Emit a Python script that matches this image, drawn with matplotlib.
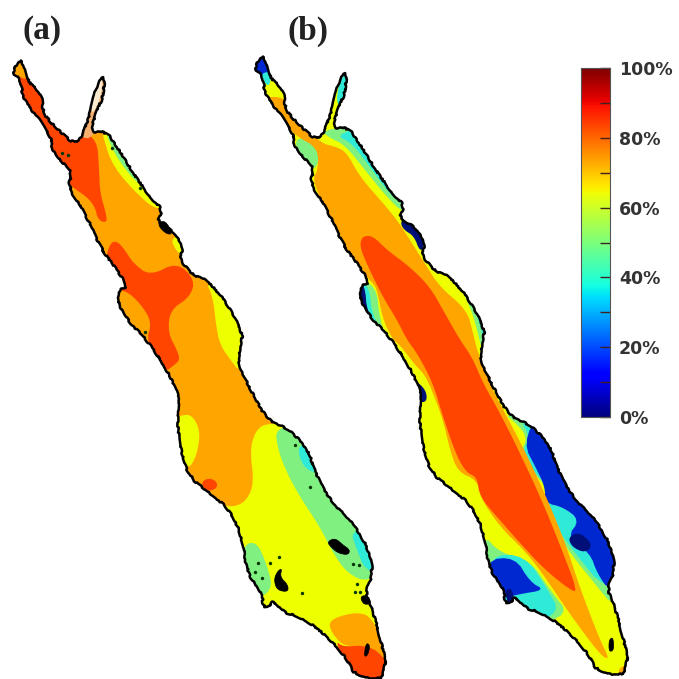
#!/bin/python3
import numpy as np

import matplotlib
matplotlib.use('agg')
import matplotlib.pyplot as plt
from matplotlib.patches import Polygon

# colours of the contour classes
RED = '#FF4500'
ORANGE = '#FFA500'
YELLOW = '#EEFF00'
GREEN = '#80F080'
CYAN = '#30EAD8'
BLUE = '#0028D0'
NAVY = '#001078'

# coast of the sea, image pixels
coast = [(20, 58), (24, 68), (27, 80), (42, 95), (43, 113), (55, 127), (75, 145), (83, 134),
         (90, 113), (97, 83), (105, 75), (103, 97), (96, 113), (90, 132), (107, 132), (117, 147),
         (133, 173), (150, 197), (163, 210), (157, 223), (173, 230), (183, 247), (180, 260),
         (193, 275), (207, 280), (227, 303), (243, 333), (240, 347), (238, 363), (247, 383),
         (267, 420), (287, 428), (307, 447), (317, 477), (330, 500), (353, 523), (369, 550),
         (373, 573), (365, 593), (373, 610), (390, 678), (357, 678), (343, 653), (320, 630),
         (300, 617), (283, 612), (273, 600), (269, 608), (263, 606), (262, 593), (247, 573),
         (242, 537), (230, 510), (210, 493), (189, 477), (180, 447), (177, 417), (180, 397),
         (167, 370), (147, 340), (127, 320), (117, 300), (119, 290), (128, 287), (117, 270),
         (100, 247), (87, 217), (68, 187), (72, 173), (63, 163), (51, 148), (53, 142), (42, 123),
         (30, 108), (23, 97), (20, 78), (12, 73)]
coast_shift_b = (242, -4)

# panel (a) contours
a_red_north = [(10, 90), (15, 75), (30, 65), (50, 90), (80, 130), (97, 140), (99, 167), (100, 193),
               (106, 213), (107, 223), (98, 220), (95, 207), (87, 197), (72, 187), (55, 170), (40, 130)]
a_tip = [(12, 73), (20, 56), (26, 68), (27, 80), (18, 76)]
a_aqaba = [(78, 137), (88, 110), (95, 80), (108, 72), (104, 100), (94, 139)]
a_aqaba_pale = [(94, 88), (103, 76), (101, 97), (93, 114), (91, 108)]
a_red_mid = [(110, 243), (117, 241), (125, 250), (133, 263), (150, 276), (177, 262), (195, 280),
             (190, 297), (170, 310), (168, 333), (177, 350), (180, 360), (173, 366), (165, 372),
             (146, 342), (152, 322), (140, 303), (125, 290), (110, 290), (105, 262)]
a_yellow_ne = [(103, 130), (103, 137), (113, 167), (140, 197), (157, 210), (170, 205), (125, 140)]
a_green_ne = [(107, 130), (107, 137), (118, 160), (140, 187), (150, 180), (125, 135)]
a_yellow_aq = [(170, 237), (177, 253), (190, 258), (190, 235)]
a_yellow_e = [(205, 280), (213, 297), (216, 325), (220, 345), (232, 362), (240, 372), (262, 350), (245, 300)]
a_yellow_w = [(182, 415), (192, 415), (200, 430), (198, 450), (192, 465), (187, 467), (170, 460), (170, 420)]
a_red_spot = [(202, 481), (210, 478), (217, 482), (217, 488), (210, 491), (203, 488)]
a_yellow_s = [(265, 423), (255, 432), (250, 450), (254, 483), (247, 500), (235, 507), (220, 505),
              (235, 560), (280, 640), (340, 665), (400, 650), (385, 590), (375, 560), (300, 425)]
a_green_s = [(275, 427), (278, 450), (287, 473), (300, 497), (320, 527), (333, 553), (347, 573),
             (368, 583), (400, 560), (380, 500), (310, 425)]
a_cyan_1 = [(297, 447), (303, 467), (317, 474), (320, 460), (307, 445)]
a_cyan_2 = [(350, 530), (357, 550), (365, 570), (385, 575), (380, 530)]
a_green_sw = [(245, 543), (257, 543), (265, 560), (272, 583), (268, 593), (258, 598), (235, 575)]
a_orange_s = [(328, 627), (333, 618), (357, 612), (372, 617), (392, 660), (363, 645), (343, 647)]
a_red_s = [(343, 647), (363, 645), (382, 653), (395, 682), (350, 682), (335, 640)]
a_dots = [(295, 445), (310, 487), (279, 557), (270, 563), (258, 563), (255, 572), (262, 578),
          (302, 593), (353, 564), (359, 565), (357, 584), (355, 592), (360, 592), (112, 148),
          (140, 188), (62, 153), (68, 155), (145, 332)]

# black islands of panel (a)
a_islands = [[(327, 542), (335, 538), (343, 545), (350, 550), (348, 555), (338, 553), (332, 548)],
             [(274, 580), (277, 572), (282, 568), (280, 577), (288, 585), (288, 592), (277, 590)],
             [(360, 597), (366, 595), (372, 603), (364, 605)],
             [(366, 643), (370, 645), (368, 655), (364, 657)],
             [(157, 224), (165, 220), (173, 234), (166, 234)]]

# panel (b) contours
b_tip_blue = [(250, 72), (262, 50), (272, 60), (270, 72), (262, 76)]
b_tip_cyan = [(260, 74), (271, 71), (270, 85), (266, 85)]
b_aqaba_top = [(335, 105), (342, 70), (352, 70), (346, 105)]
b_green_ne = [(320, 130), (330, 138), (345, 145), (365, 170), (385, 195), (405, 215), (430, 205), (370, 125)]
b_cyan_ne = [(335, 135), (352, 143), (372, 170), (392, 197), (410, 210), (425, 200), (370, 125)]
b_blue_ne = [(352, 134), (362, 142), (370, 153), (385, 150), (365, 125)]
b_navy_aq = [(400, 222), (408, 216), (418, 226), (425, 245), (420, 252), (414, 236), (404, 230)]
b_cyan_aq = [(415, 215), (428, 240), (425, 262), (440, 250), (430, 215)]
b_delta = [(292, 136), (317, 143), (319, 167), (305, 170)]
b_green_wb = [(355, 280), (376, 285), (380, 320), (388, 345), (370, 345)]
b_cyan_wb = [(355, 280), (369, 285), (372, 315), (384, 333), (370, 345)]
b_navy_wb = [(355, 280), (365, 285), (367, 313), (383, 333), (380, 345), (355, 330)]
b_green_eb = [(440, 270), (455, 280), (470, 305), (480, 340), (490, 390), (500, 370), (490, 300)]
b_cyan_eb = [(445, 272), (460, 280), (476, 310), (485, 345), (490, 385), (505, 370), (495, 300)]
b_navy_eb = [(450, 272), (468, 285), (483, 320), (486, 350), (484, 385), (505, 370), (495, 300)]
b_navy_w = [(415, 380), (426, 390), (427, 402), (418, 402)]
b_orange = [(262, 97), (285, 97), (295, 115), (320, 143), (337, 147), (347, 153), (360, 177),
            (383, 203), (397, 220), (410, 240), (427, 267), (440, 287), (467, 310), (473, 333),
            (477, 350), (490, 385), (505, 413), (526, 453), (549, 503), (566, 545), (580, 588),
            (600, 640), (610, 660), (600, 655), (567, 610), (547, 580), (527, 553), (500, 527),
            (480, 497), (477, 480), (458, 472), (450, 450), (443, 420), (433, 393), (425, 375),
            (415, 365), (400, 345), (393, 340), (383, 320), (377, 290), (373, 283), (350, 260),
            (330, 220), (312, 180), (318, 170), (318, 148), (296, 136), (280, 120), (262, 100)]
b_red = [(360, 243), (363, 236), (373, 236), (387, 250), (410, 267), (430, 287), (443, 310),
         (460, 340), (472, 357), (483, 383), (500, 413), (520, 453), (543, 503), (560, 545),
         (578, 592), (570, 590), (543, 568), (520, 543), (497, 517), (480, 497), (477, 477),
         (467, 473), (457, 457), (443, 417), (433, 383), (417, 353), (407, 340), (397, 320),
         (383, 297), (373, 277), (362, 253)]
b_tip_orange = [(618, 668), (630, 664), (636, 680), (620, 680)]
b_green_e = [(505, 415), (513, 420), (528, 437), (520, 453), (533, 473), (547, 487), (543, 503),
             (553, 527), (570, 553), (600, 590), (613, 606), (640, 580), (600, 470), (540, 410)]
b_cyan_e = [(520, 420), (530, 437), (522, 453), (535, 473), (549, 487), (546, 505), (556, 527),
            (575, 553), (605, 590), (640, 580), (600, 470), (540, 410)]
b_blue_e = [(523, 443), (537, 470), (545, 487), (545, 503), (563, 507), (580, 520), (567, 537),
            (590, 553), (597, 573), (610, 592), (640, 580), (600, 470), (540, 410)]
b_navy_e = [(568, 537), (580, 532), (593, 545), (585, 553), (572, 547)]
b_green_sw = [(482, 533), (500, 553), (530, 560), (550, 590), (570, 615), (530, 625), (490, 590)]
b_cyan_sw = [(490, 555), (525, 555), (548, 590), (560, 612), (530, 625), (490, 590)]
b_blue_sw = [(485, 560), (515, 557), (530, 582), (545, 590), (520, 594), (495, 600)]
b_navy_sw = [(505, 590), (512, 588), (515, 605), (508, 605)]
b_black = [[(609, 640), (613, 637), (614, 650), (609, 652)]]


def smooth(points, rounds=2):
    # corner cutting, the contours of the map are round
    pts = np.array(points, dtype=float)
    for _ in range(rounds):
        nxt = np.roll(pts, -1, axis=0)
        pts = np.column_stack([0.75 * pts + 0.25 * nxt, 0.25 * pts + 0.75 * nxt]).reshape(-1, 2)
    return pts


def fill_layers(ax, layers, clip):
    # every contour is cut to the shape of the coast
    for colour, points in layers:
        patch = Polygon(smooth(points), closed=True, facecolor=colour, edgecolor='none')
        ax.add_patch(patch)
        patch.set_clip_path(clip)


def draw_islands(ax, islands):
    for island in islands:
        ax.add_patch(Polygon(smooth(island), closed=True, facecolor='black', edgecolor='black', lw=0.5))


def draw_coast_line(ax, points):
    line = Polygon(smooth(points, 1), closed=True, fill=False, edgecolor='black', lw=1.8, joinstyle='round')
    line.set_sketch_params(scale=0.7, length=22, randomness=30)
    ax.add_patch(line)


def main():
    fig = plt.figure(figsize=(6.79, 6.79), dpi=100)
    ax = fig.add_axes([0, 0, 1, 1])
    ax.set_xlim(0, 679)
    ax.set_ylim(679, 0)
    ax.axis('off')

    # panel a
    clip_a = Polygon(smooth(coast, 1), closed=True, facecolor=ORANGE, edgecolor='none')
    ax.add_patch(clip_a)
    fill_layers(ax, [(RED, a_red_north), (ORANGE, a_tip), ('#F5B070', a_aqaba), ('#FCEBD0', a_aqaba_pale),
                     (YELLOW, a_yellow_ne), (GREEN, a_green_ne), (YELLOW, a_yellow_aq), (YELLOW, a_yellow_e),
                     (RED, a_red_mid), (YELLOW, a_yellow_w), (RED, a_red_spot), (YELLOW, a_yellow_s),
                     (GREEN, a_green_s), (CYAN, a_cyan_1), (CYAN, a_cyan_2), (GREEN, a_green_sw),
                     (ORANGE, a_orange_s), (RED, a_red_s)], clip_a)
    draw_islands(ax, a_islands)
    ax.scatter(*zip(*a_dots), s=6, c='#083808', linewidths=0)
    draw_coast_line(ax, coast)

    # panel b, same coast further right
    coast_b = [(x + coast_shift_b[0], y + coast_shift_b[1]) for x, y in coast]
    clip_b = Polygon(smooth(coast_b, 1), closed=True, facecolor=YELLOW, edgecolor='none')
    ax.add_patch(clip_b)
    fill_layers(ax, [(BLUE, b_tip_blue), (CYAN, b_tip_cyan), (CYAN, b_aqaba_top),
                     (GREEN, b_green_ne), (CYAN, b_cyan_ne), (BLUE, b_blue_ne),
                     (CYAN, b_cyan_aq), (NAVY, b_navy_aq), (GREEN, b_delta),
                     (GREEN, b_green_wb), (CYAN, b_cyan_wb), (NAVY, b_navy_wb),
                     (GREEN, b_green_eb), (CYAN, b_cyan_eb), (NAVY, b_navy_eb), (NAVY, b_navy_w),
                     (GREEN, b_green_e), (CYAN, b_cyan_e), (BLUE, b_blue_e), (NAVY, b_navy_e),
                     (GREEN, b_green_sw), (CYAN, b_cyan_sw), (BLUE, b_blue_sw), (NAVY, b_navy_sw),
                     (ORANGE, b_orange), (ORANGE, b_tip_orange), (RED, b_red)], clip_b)
    draw_islands(ax, b_black)
    draw_coast_line(ax, coast_b)

    ax.text(42, 31, '(a)', family='Liberation Serif', weight='bold', size=24, color='#222222',
            ha='center', va='center')
    ax.text(308, 31, '(b)', family='Liberation Serif', weight='bold', size=24, color='#222222',
            ha='center', va='center')

    # colour bar
    cax = fig.add_axes([581 / 679, 1 - 417 / 679, 29 / 679, 349 / 679])
    levels = np.linspace(0, 100, 256).reshape(-1, 1)
    cax.imshow(levels, cmap='jet', origin='lower', aspect='auto', extent=[0, 1, 0, 100])
    cax.set_xticks([])
    cax.set_yticks(np.arange(0, 101, 20))
    cax.set_yticks(np.arange(10, 100, 20), minor=True)
    cax.set_yticklabels(['{v}%'.format(v=v) for v in range(0, 101, 20)])
    cax.yaxis.tick_right()
    cax.tick_params(axis='y', which='both', direction='in', length=7, width=1, color='#402020',
                    labelsize=12.5, pad=6.5, labelcolor='#333333')
    for label in cax.get_yticklabels():
        label.set_fontweight('bold')
    for spine in cax.spines.values():
        spine.set_color('#555555')
        spine.set_linewidth(0.8)

    plt.savefig('out.png', dpi=100)


if __name__ == "__main__":
    main()
